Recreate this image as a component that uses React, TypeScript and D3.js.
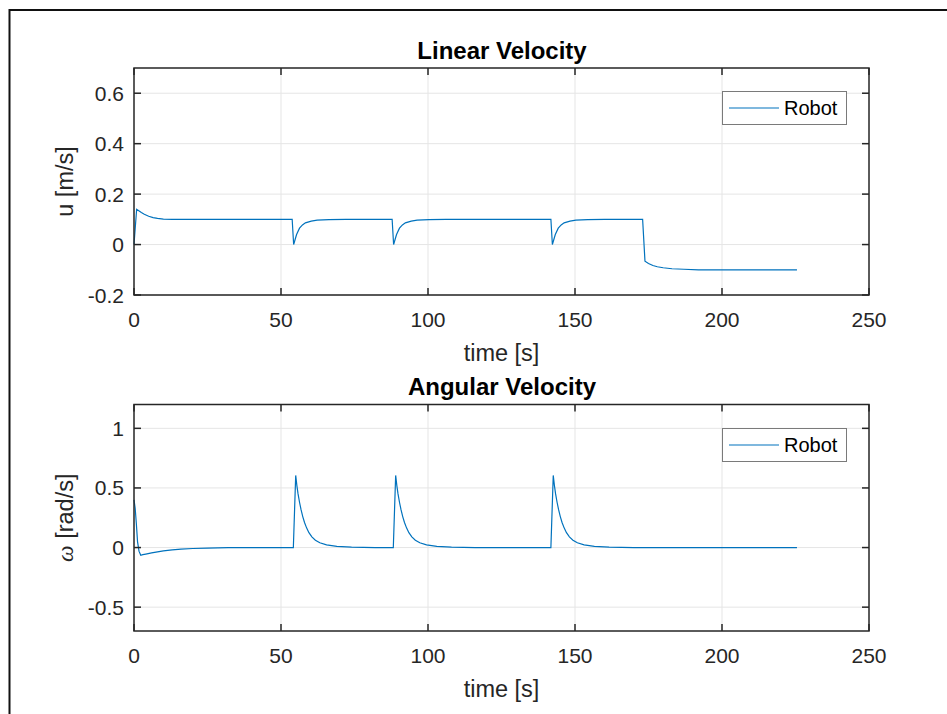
import React from "react";
import * as d3 from "d3";

const uTime = [0, 0.9, 1.5, 2.5, 3.5, 5, 6.5, 8, 10, 13,
  53.8, 54.3, 54.8, 55.3, 56.3, 57.3, 58.3, 60.3, 62.3, 66.3, 72,
  87.8, 88.3, 88.8, 89.3, 90.3, 91.3, 92.3, 94.3, 96.3, 100.3, 106,
  141.8, 142.3, 142.8, 143.3, 144.3, 145.3, 146.3, 148.3, 150.3, 154.3, 160,
  173, 173.8, 175, 176.5, 178, 180, 183, 187, 192, 225.5];
const uVals = [0, 0.14, 0.135, 0.127, 0.12, 0.112, 0.107, 0.104, 0.101, 0.1,
  0.1, 0, 0.02, 0.04, 0.065, 0.078, 0.086, 0.093, 0.097, 0.099, 0.1,
  0.1, 0, 0.02, 0.04, 0.065, 0.078, 0.086, 0.093, 0.097, 0.099, 0.1,
  0.1, 0, 0.02, 0.04, 0.065, 0.078, 0.086, 0.093, 0.097, 0.099, 0.1,
  0.1, -0.066, -0.075, -0.083, -0.088, -0.092, -0.096, -0.098, -0.1, -0.1];

const wTime = [0, 0.4, 0.8, 1.2, 1.7, 2.3, 3, 4, 6, 8, 10, 13, 16, 20, 25, 32, 40,
  54.2, 55, 55.4, 55.8, 56.3, 56.8, 57.4, 58, 58.7, 59.5, 60.5, 61.7, 63.2, 65.5, 69, 74, 82,
  88.2, 89, 89.4, 89.8, 90.3, 90.8, 91.4, 92, 92.7, 93.5, 94.5, 95.7, 97.2, 99.5, 103, 108, 116,
  141.8, 142.6, 143, 143.4, 143.9, 144.4, 145, 145.6, 146.3, 147.1, 148.1, 149.3, 150.8, 153.1, 156.6, 161.6, 170, 225.5];
const wVals = [0.4, 0.33, 0.2, 0.05, -0.03, -0.065, -0.06, -0.055, -0.045, -0.036, -0.028, -0.02, -0.013, -0.008, -0.004, -0.001, 0,
  0, 0.605, 0.52, 0.45, 0.38, 0.32, 0.26, 0.21, 0.165, 0.125, 0.09, 0.062, 0.04, 0.022, 0.01, 0.003, 0,
  0, 0.605, 0.52, 0.45, 0.38, 0.32, 0.26, 0.21, 0.165, 0.125, 0.09, 0.062, 0.04, 0.022, 0.01, 0.003, 0,
  0, 0.605, 0.52, 0.45, 0.38, 0.32, 0.26, 0.21, 0.165, 0.125, 0.09, 0.062, 0.04, 0.022, 0.01, 0.003, 0, 0];

const xTicks = [0, 50, 100, 150, 200, 250];
const uTicks = [-0.2, 0, 0.2, 0.4, 0.6];
const wTicks = [-0.5, 0, 0.5, 1];
const legendLabel = "Robot";

const LINE = "#0072BD";
const AX = "#262626";
const GRID = "#e5e5e5";
const FONT = "'Liberation Sans', Arial, Helvetica, sans-serif";

type PanelProps = {
  top: number; bottom: number; t: number[]; v: number[]; yDomain: [number, number];
  yTicks: number[]; title: React.ReactNode; ylabel: React.ReactNode; fmt: (d: number) => string;
};

const L = 134, R = 869;

function Panel({ top, bottom, t, v, yDomain, yTicks, title, ylabel, fmt }: PanelProps) {
  const x = d3.scaleLinear().domain([0, 250]).range([L, R]);
  const y = d3.scaleLinear().domain(yDomain).range([bottom, top]);
  const pts = t.map((tt, i) => [tt, v[i]] as [number, number]);
  const line = d3.line<[number, number]>().x(d => x(d[0])).y(d => y(d[1]));
  const tl = 7;
  const midY = (top + bottom) / 2;
  const lgTop = Math.round(top + 23);
  return (
    <g>
      {xTicks.slice(1, -1).map(d => (
        <line key={"gx" + d} x1={x(d)} x2={x(d)} y1={top} y2={bottom} stroke={GRID} strokeWidth={1} />
      ))}
      {yTicks.map(d => (
        <line key={"gy" + d} x1={L} x2={R} y1={y(d)} y2={y(d)} stroke={GRID} strokeWidth={1} />
      ))}
      <path d={line(pts) || ""} fill="none" stroke={LINE} strokeWidth={1.2} />
      <rect x={L} y={top} width={R - L} height={bottom - top} fill="none" stroke={AX} strokeWidth={1.5} />
      {xTicks.map(d => (
        <g key={"tx" + d}>
          <line x1={x(d)} x2={x(d)} y1={bottom} y2={bottom - tl} stroke={AX} strokeWidth={1.5} />
          <line x1={x(d)} x2={x(d)} y1={top} y2={top + tl} stroke={AX} strokeWidth={1.5} />
          <text x={x(d)} y={bottom + 32} textAnchor="middle" fontSize={21} fill={AX} fontFamily={FONT}>{d}</text>
        </g>
      ))}
      {yTicks.map(d => (
        <g key={"ty" + d}>
          <line x1={L} x2={L + tl} y1={y(d)} y2={y(d)} stroke={AX} strokeWidth={1.5} />
          <line x1={R} x2={R - tl} y1={y(d)} y2={y(d)} stroke={AX} strokeWidth={1.5} />
          <text x={124} y={y(d) + 7.5} textAnchor="end" fontSize={21} fill={AX} fontFamily={FONT}>{fmt(d)}</text>
        </g>
      ))}
      <text x={(L + R) / 2 + 0.5} y={top - 9.5} textAnchor="middle" fontSize={24} fontWeight="bold" fill="#000" fontFamily={FONT}>{title}</text>
      <text x={(L + R) / 2} y={bottom + 66} textAnchor="middle" fontSize={23.5} fill={AX} fontFamily={FONT}>time [s]</text>
      <text transform={`translate(73,${midY}) rotate(-90)`} textAnchor="middle" fontSize={23.5} fill={AX} fontFamily={FONT}>{ylabel}</text>
      <g>
        <rect x={722.5} y={lgTop + 0.5} width={124} height={33} fill="#fff" stroke="#7a7a7a" strokeWidth={1} />
        <line x1={729} x2={779} y1={lgTop + 17} y2={lgTop + 17} stroke={LINE} strokeWidth={1.2} />
        <text x={784} y={lgTop + 24} fontSize={20} fill="#000" fontFamily={FONT}>{legendLabel}</text>
      </g>
    </g>
  );
}

export default function App() {
  const fmtU = (d: number) => (d === 0 ? "0" : d.toFixed(1));
  const fmtW = (d: number) => (d === 0 || d === 1 ? String(d) : d.toFixed(1));
  return (
    <svg width={947} height={714} style={{ position: "absolute", left: 0, top: 0, background: "#fff" }}>
      <rect x={0} y={0} width={947} height={714} fill="#fff" />
      <line x1={9.5} x2={947} y1={10} y2={10} stroke="#111" strokeWidth={2} />
      <line x1={9.5} x2={9.5} y1={9} y2={714} stroke="#111" strokeWidth={2} />
      <Panel top={68} bottom={295} t={uTime} v={uVals} yDomain={[-0.2, 0.7]} yTicks={uTicks}
        title="Linear Velocity" ylabel="u [m/s]" fmt={fmtU} />
      <Panel top={404.5} bottom={631} t={wTime} v={wVals} yDomain={[-0.7, 1.2]} yTicks={wTicks}
        title="Angular Velocity"
        ylabel={<><tspan fontFamily="'Liberation Serif', 'DejaVu Serif', serif" fontStyle="italic">ω</tspan><tspan> [rad/s]</tspan></>}
        fmt={fmtW} />
    </svg>
  );
}
